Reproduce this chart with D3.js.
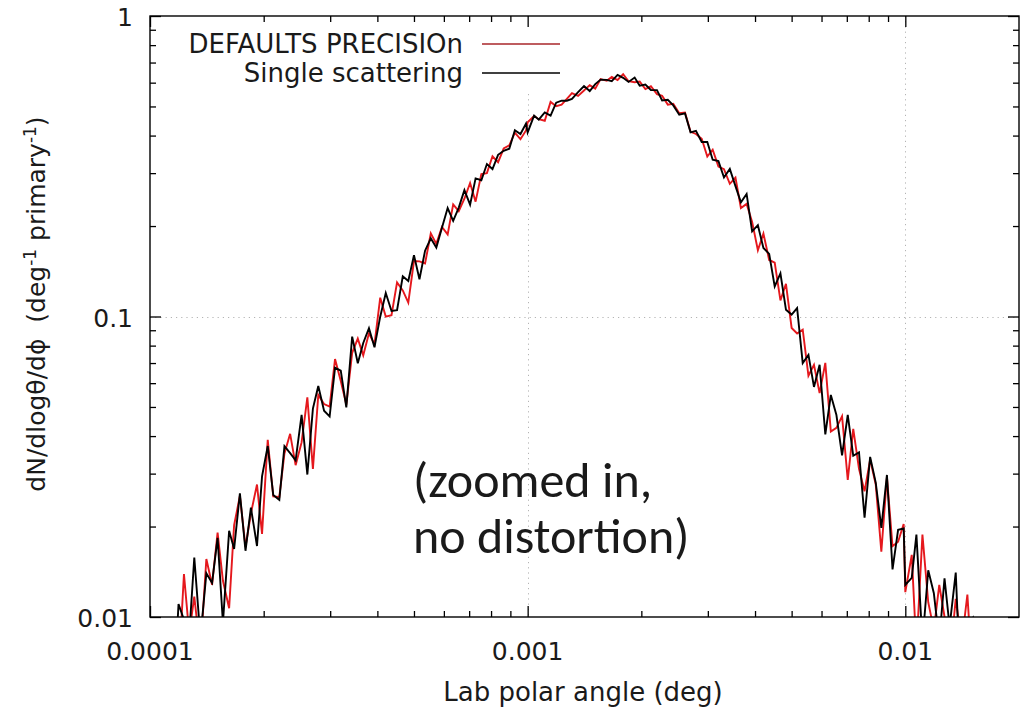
<!DOCTYPE html>
<html>
<head>
<meta charset="utf-8">
<script src="https://cdn.jsdelivr.net/npm/d3@7"></script>
<style>
body { margin: 0; background: #fff; }
svg text { font-family: "DejaVu Sans", sans-serif; fill: #1a1a1a; }
</style>
</head>
<body>
<script>
// data //{{{
var angle = [
	1.04e-4,1.07e-4,1.11e-4,1.15e-4,1.19e-4,1.23e-4,1.27e-4,1.31e-4,1.36e-4,1.41e-4,
	1.46e-4,1.51e-4,1.56e-4,1.62e-4,1.67e-4,1.73e-4,1.79e-4,1.85e-4,1.92e-4,1.98e-4,
	2.05e-4,2.12e-4,2.20e-4,2.27e-4,2.35e-4,2.43e-4,2.52e-4,2.61e-4,2.70e-4,2.79e-4,
	2.89e-4,2.99e-4,3.09e-4,3.20e-4,3.31e-4,3.43e-4,3.55e-4,3.67e-4,3.80e-4,3.93e-4,
	4.07e-4,4.21e-4,4.36e-4,4.51e-4,4.67e-4,4.83e-4,5.00e-4,5.17e-4,5.35e-4,5.54e-4,
	5.73e-4,5.93e-4,6.14e-4,6.35e-4,6.57e-4,6.80e-4,7.04e-4,7.28e-4,7.54e-4,7.80e-4,
	8.07e-4,8.35e-4,8.64e-4,8.94e-4,9.25e-4,9.57e-4,9.90e-4,
	1.00e-3,1.04e-3,1.07e-3,1.11e-3,1.15e-3,1.19e-3,1.23e-3,1.27e-3,1.31e-3,1.36e-3,
	1.41e-3,1.46e-3,1.51e-3,1.56e-3,1.62e-3,1.67e-3,1.73e-3,1.79e-3,1.85e-3,1.92e-3,
	1.98e-3,2.05e-3,2.12e-3,2.20e-3,2.27e-3,2.35e-3,2.43e-3,2.52e-3,2.61e-3,2.70e-3,
	2.79e-3,2.89e-3,2.99e-3,3.09e-3,3.20e-3,3.31e-3,3.43e-3,3.55e-3,3.67e-3,3.80e-3,
	3.93e-3,4.07e-3,4.21e-3,4.36e-3,4.51e-3,4.67e-3,4.83e-3,5.00e-3,5.17e-3,5.35e-3,
	5.54e-3,5.73e-3,5.93e-3,6.14e-3,6.35e-3,6.57e-3,6.80e-3,7.04e-3,7.28e-3,7.54e-3,
	7.80e-3,8.07e-3,8.35e-3,8.64e-3,8.94e-3,9.25e-3,9.57e-3,9.90e-3,
	1.00e-2,1.04e-2,1.07e-2,1.11e-2,1.15e-2,1.19e-2,1.23e-2,1.27e-2,1.31e-2,1.36e-2,
	1.41e-2,1.46e-2,1.51e-2,1.56e-2,1.62e-2
];

// DEFAULTS PRECISIOn (red)
var precision = [
	0.00344,0.00922,0.00685,0.00872,0.00649,0.0139,0.0088,0.0117,0.00765,0.0156,
	0.0128,0.0191,0.0132,0.0107,0.0202,0.0253,0.0171,0.0221,0.0276,0.0189,
	0.0389,0.0252,0.0251,0.035,0.0407,0.032,0.0381,0.0538,0.0311,0.0548,
	0.0511,0.0501,0.0722,0.061,0.0509,0.0757,0.0844,0.0743,0.0879,0.0808,
	0.1155,0.0999,0.101,0.1298,0.1221,0.1112,0.1529,0.1526,0.1502,0.189,
	0.1745,0.1987,0.1876,0.2362,0.2241,0.2466,0.2782,0.2411,0.298,0.3001,
	0.3413,0.3261,0.3622,0.3709,0.4088,0.3891,0.4162,
	0.4431,0.4645,0.4536,0.448,0.5176,0.5011,0.5072,0.5301,0.5534,0.542,
	0.5652,0.5889,0.5733,0.6164,0.6086,0.6271,0.6123,0.6407,0.6067,0.602,
	0.6051,0.5712,0.5836,0.5497,0.5427,0.5071,0.5104,0.4747,0.4774,0.4116,
	0.405,0.3902,0.3405,0.359,0.3153,0.3094,0.2764,0.2901,0.2296,0.237,
	0.2064,0.1662,0.1889,0.1542,0.1511,0.1131,0.1285,0.0916,0.0878,0.0904,
	0.0635,0.069,0.0556,0.0701,0.0414,0.0426,0.0466,0.0286,0.0423,0.0311,
	0.0262,0.0334,0.0276,0.0165,0.0292,0.0172,0.0178,0.0204,
	0.0121,0.0161,0.0078,0.0188,0.0112,0.00907,0.0128,0.01002,0.00703,0.0115,
	0.00821,0.01187,0.00606,0.0074,0.00831
];

// Single scattering (black)
var single = [
	0.00887,0.00557,0.0083,0.00492,0.01105,0.00979,0.00867,0.01578,0.00853,0.01397,
	0.01298,0.01833,0.00956,0.01935,0.01685,0.02578,0.01661,0.02312,0.01723,0.02937,
	0.03707,0.02549,0.02455,0.03705,0.0351,0.03321,0.04704,0.02979,0.04936,0.05871,
	0.04858,0.04654,0.0675,0.06602,0.04985,0.08568,0.06992,0.08161,0.09137,0.07895,
	0.09986,0.1197,0.1043,0.105,0.136,0.1313,0.16,0.133,0.1656,0.182,
	0.1696,0.1973,0.2296,0.208,0.2304,0.2634,0.2355,0.2882,0.2841,0.3216,
	0.3096,0.3451,0.356,0.3617,0.417,0.4049,0.4387,
	0.4097,0.4661,0.452,0.4779,0.4663,0.5147,0.523,0.5225,0.5301,0.558,
	0.5847,0.5627,0.5936,0.6142,0.613,0.6069,0.637,0.6228,0.6034,0.6238,
	0.5858,0.5912,0.5672,0.5667,0.5232,0.5259,0.5041,0.4696,0.4742,0.4101,
	0.4149,0.3809,0.381,0.3326,0.3289,0.2901,0.3098,0.2716,0.2398,0.2557,
	0.1921,0.2013,0.169,0.1616,0.1259,0.1392,0.1053,0.1015,0.1066,0.07,
	0.0745,0.0583,0.0691,0.0405,0.0548,0.047,0.0345,0.0471,0.0344,0.0353,
	0.0214,0.0341,0.028,0.0198,0.0297,0.0144,0.0195,0.0197,
	0.0128,0.0135,0.0188,0.00825,0.0143,0.012,0.00833,0.01345,0.00929,0.01406,
	0.00483,0.00936,0.00994,0.00637,0.00754
];

var series_names = ["DEFAULTS PRECISIOn", "Single scattering"];
var series_colors = ["#e5181d", "#000000"];
var legend_colors = ["#a8262a", "#000000"];

var xticks = [1e-4, 1e-3, 1e-2];
var xtick_labels = ["0.0001", "0.001", "0.01"];
var yticks = [0.01, 0.1, 1];
var ytick_labels = ["0.01", "0.1", "1"];
var xgrid = [1e-3, 1e-2];
var ygrid = [0.1];
var note_lines = ["(zoomed in,", "no distortion)"];
//}}}

var W = 1026, H = 711;
var plot = { l: 150, r: 1019, t: 16, b: 617 };

var svg = d3.select("body").append("svg").attr("width", W).attr("height", H);

var x = d3.scaleLog().domain([1e-4, 0.02]).range([plot.l, plot.r]);
var y = d3.scaleLog().domain([0.01, 1]).range([plot.b, plot.t]);

// grid //{{{
var g_grid = svg.append("g").attr("stroke", "#b4b4b4").attr("stroke-width", 1).attr("stroke-dasharray", "1.2,4");
g_grid.selectAll("line.gx").data(xgrid).enter().append("line")
	.attr("x1", d => Math.round(x(d)) + 0.5).attr("x2", d => Math.round(x(d)) + 0.5)
	.attr("y1", plot.t).attr("y2", plot.b);
g_grid.selectAll("line.gy").data(ygrid).enter().append("line")
	.attr("y1", d => Math.round(y(d)) + 0.5).attr("y2", d => Math.round(y(d)) + 0.5)
	.attr("x1", plot.l).attr("x2", plot.r);
//}}}

// key background (opaque in gnuplot) //{{{
svg.append("rect").attr("x", 176).attr("y", plot.t + 1).attr("width", 392).attr("height", 76).attr("fill", "#fff");
//}}}

// curves //{{{
svg.append("clipPath").attr("id", "clip").append("rect")
	.attr("x", plot.l).attr("y", plot.t).attr("width", plot.r - plot.l).attr("height", plot.b - plot.t);

var line = d3.line().x(d => x(d[0])).y(d => y(d[1]));
var curves = [precision, single];
curves.forEach(function(vals, k) {
	svg.append("path")
		.datum(angle.map((a, i) => [a, vals[i]]))
		.attr("clip-path", "url(#clip)")
		.attr("fill", "none")
		.attr("stroke", series_colors[k])
		.attr("stroke-width", 1.9)
		.attr("stroke-linejoin", "miter")
		.attr("d", line);
});
//}}}

// axes (ticks inward, mirrored) //{{{
var xminor = x.ticks().filter(d => xticks.indexOf(d) < 0 && d < 0.02);
var yminor = y.ticks().filter(d => yticks.indexOf(d) < 0);

function tickset(axis, scale, vals, size, pos) {
	var g = svg.append("g").attr("transform", pos)
		.call(axis(scale).tickValues(vals).tickSize(-size).tickFormat(""));
	g.select(".domain").remove();
	g.selectAll("line").attr("stroke", "#000").attr("stroke-width", 1.3);
	return g;
}
tickset(d3.axisBottom, x, xticks, 11, "translate(0," + plot.b + ")");
tickset(d3.axisBottom, x, xminor, 6, "translate(0," + plot.b + ")");
tickset(d3.axisTop, x, xticks, 11, "translate(0," + plot.t + ")");
tickset(d3.axisTop, x, xminor, 6, "translate(0," + plot.t + ")");
tickset(d3.axisLeft, y, yticks, 11, "translate(" + plot.l + ",0)");
tickset(d3.axisLeft, y, yminor, 6, "translate(" + plot.l + ",0)");
tickset(d3.axisRight, y, yticks, 11, "translate(" + plot.r + ",0)");
tickset(d3.axisRight, y, yminor, 6, "translate(" + plot.r + ",0)");

svg.append("g").selectAll("text").data(xticks).enter().append("text")
	.attr("x", d => x(d)).attr("y", 660)
	.attr("text-anchor", "middle").attr("font-size", 25)
	.text((d, i) => xtick_labels[i]);

svg.append("g").selectAll("text").data(yticks).enter().append("text")
	.attr("x", 133).attr("y", d => y(d) + 10)
	.attr("text-anchor", "end").attr("font-size", 25)
	.text((d, i) => ytick_labels[i]);

svg.append("rect")
	.attr("x", plot.l).attr("y", plot.t).attr("width", plot.r - plot.l).attr("height", plot.b - plot.t)
	.attr("fill", "none").attr("stroke", "#000").attr("stroke-width", 1.4);
//}}}

// titles //{{{
svg.append("text").attr("x", 583).attr("y", 701).attr("text-anchor", "middle").attr("font-size", 26)
	.text("Lab polar angle (deg)");

var yt = svg.append("text").attr("transform", "translate(45,304) rotate(-90)")
	.attr("text-anchor", "middle").attr("font-size", 25);
yt.append("tspan").text("dN/dlog\u03b8/d\u03d5\u00a0\u00a0(deg");
yt.append("tspan").attr("font-size", 17).attr("dy", -9).text("-1");
yt.append("tspan").attr("dy", 9).text("\u00a0primary");
yt.append("tspan").attr("font-size", 17).attr("dy", -9).text("-1");
yt.append("tspan").attr("dy", 9).text(")");
//}}}

// key //{{{
series_names.forEach(function(name, k) {
	var base = 53 + k * 29;
	svg.append("text").attr("x", 463).attr("y", base).attr("text-anchor", "end").attr("font-size", 26).text(name);
	svg.append("line").attr("x1", 482).attr("x2", 560).attr("y1", base - 9).attr("y2", base - 9)
		.attr("stroke", legend_colors[k]).attr("stroke-width", 1.5);
});
//}}}

// note //{{{
svg.append("g").selectAll("text").data(note_lines).enter().append("text")
	.attr("x", 413).attr("y", (d, i) => 497 + i * 56)
	.style("font-family", "Calibri, Carlito, Lato, sans-serif")
	.attr("font-size", 50).attr("fill", "#000")
	.text(d => d);
//}}}
</script>
</body>
</html>
